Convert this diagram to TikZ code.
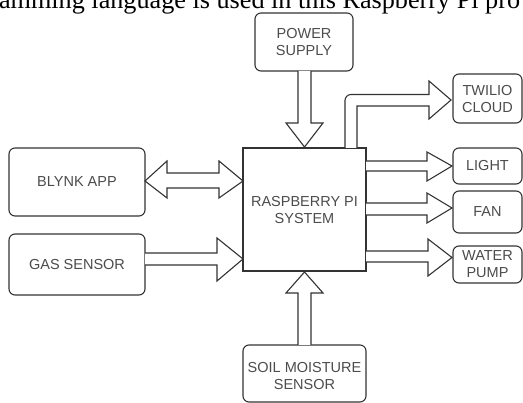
\documentclass[tikz,border=0pt]{standalone}
\usepackage{fontspec}
\setmainfont{Liberation Sans}
\newfontfamily\serifpart{Liberation Serif}
\begin{document}
\begin{tikzpicture}[x=1pt,y=-1pt,
  line width=1.1pt,
  box/.style={draw=black!80, rounded corners=6pt, inner sep=0pt, text=black!70, align=center,
    font=\fontsize{14.5}{17}\selectfont},
  sqbox/.style={box, rounded corners=0pt},
  blk/.style={draw=black!80, fill=white, line join=miter}
]
\useasboundingbox (0,0) rectangle (523,403);
\clip (0,0) rectangle (523,403);
\fill[white] (0,0) rectangle (523,403);
% clipped document line at top
\node[anchor=base west, inner sep=0pt, font=\serifpart\fontsize{26.2}{28}\selectfont] (topline) at (-1.5,9) {amming language is used in this Raspberry Pi pro};

% boxes
\draw[box] (255,13) rectangle (353,71);
\node[box, draw=none] (power) at (304,42) {POWER\\SUPPLY};
\draw[sqbox] (243,148) rectangle (366,271);
\node[box, draw=none] (pi) at (304.5,210) {RASPBERRY PI\\SYSTEM};
\draw[box] (453,74) rectangle (522,123);
\node[box, draw=none] (twilio) at (487.5,99.5) {TWILIO\\CLOUD};
\draw[box] (453,148) rectangle (522,184);
\node[box, draw=none] (light) at (487.5,166) {LIGHT};
\draw[box] (453,191) rectangle (522,233);
\node[box, draw=none] (fan) at (487.5,212) {FAN};
\draw[box] (453,246) rectangle (522,283);
\node[box, draw=none] (pump) at (487.5,264) {WATER\\PUMP};
\draw[box] (9,148) rectangle (145,216);
\node[box, draw=none] (blynk) at (77,182) {BLYNK APP};
\draw[box] (9,234) rectangle (145,295);
\node[box, draw=none] (gas) at (77,264.5) {GAS SENSOR};
\draw[box] (243,345) rectangle (366,402);
\node[box, draw=none] (soil) at (304.5,376) {SOIL MOISTURE\\SENSOR};

% block arrows
% power -> pi
\draw[blk] (298,71) -- (298,123) -- (286,123) -- (304.5,147) -- (323,123) -- (311,123) -- (311,71);
% soil -> pi
\draw[blk] (298,345) -- (298,293) -- (286,293) -- (304.5,272) -- (323,293) -- (311,293) -- (311,345);
% pi -> light
\draw[blk] (366,161) -- (427,161) -- (427,152) -- (452,166) -- (427,181) -- (427,171) -- (366,171);
% pi -> fan
\draw[blk] (366,203) -- (427,203) -- (427,193) -- (452,208) -- (427,223) -- (427,215) -- (366,215);
% pi -> pump
\draw[blk] (366,251) -- (428,251) -- (428,239) -- (452,257.5) -- (428,276) -- (428,262) -- (366,262);
% gas -> pi
\draw[blk] (145,253) -- (217,253) -- (217,238) -- (243,259) -- (217,281) -- (217,265) -- (145,265);
% blynk <-> pi
\draw[blk] (145,181) -- (167,161) -- (167,173) -- (219,173) -- (219,161) -- (243,181) -- (219,198) -- (219,188) -- (167,188) -- (167,198) -- cycle;
% pi -> twilio (bent)
\draw[blk] (345,148) [rounded corners=6pt] -- (345,94.5) [sharp corners] -- (429,94.5) -- (429,81) -- (451,100) -- (429,119) -- (429,106) -- (357,106) -- (357,148);
\end{tikzpicture}
\end{document}
